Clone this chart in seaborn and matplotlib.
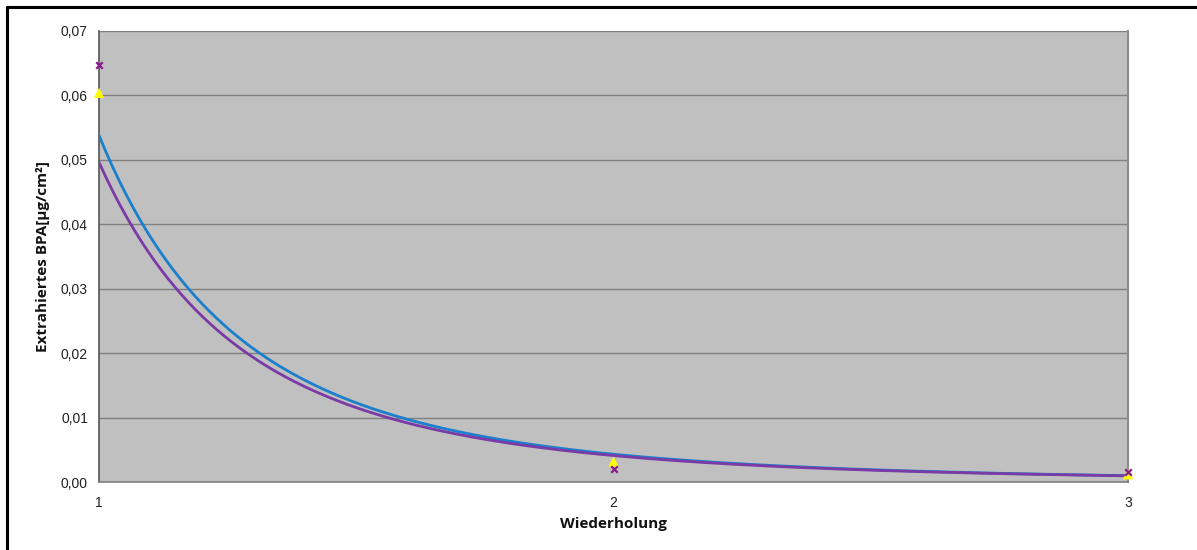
import numpy as np
import pandas as pd
import matplotlib
matplotlib.use("Agg")
import matplotlib.pyplot as plt
import seaborn as sns
from matplotlib.ticker import FuncFormatter, FixedLocator
from matplotlib.lines import Line2D

# --- data ---
wiederholung = [1, 2, 3]
serie_gelb = [0.0604, 0.00315, 0.0012]   # yellow triangles
serie_lila = [0.0647, 0.0020, 0.0015]    # purple crosses
y_ticks = [0.0, 0.01, 0.02, 0.03, 0.04, 0.05, 0.06, 0.07]
x_ticks = [1, 2, 3]

sns.set_style("white")
plt.rcParams['font.family'] = ['Liberation Sans', 'DejaVu Sans']

fig = plt.figure(figsize=(11.97, 5.5), dpi=100)
ax = fig.add_axes([99/1197, 1-482/550, (1128-99)/1197, (482-31)/550])
ax.set_facecolor("#C0C0C0")

# power-law trendlines (Excel style) fitted to each series
xs = np.linspace(1, 3, 300)
def power_fit(x, y):
    b, ln_a = np.polyfit(np.log(x), np.log(y), 1)
    return np.exp(ln_a) * xs ** b

trend = pd.DataFrame({
    "x": np.concatenate([xs, xs]),
    "y": np.concatenate([power_fit(wiederholung, serie_gelb), power_fit(wiederholung, serie_lila)]),
    "s": ["gelb"] * len(xs) + ["lila"] * len(xs),
})
sns.lineplot(data=trend, x="x", y="y", hue="s", palette={"gelb": "#1B7FCC", "lila": "#7A3BA6"},
             linewidth=2.0, legend=False, ax=ax, zorder=3)

pts_g = pd.DataFrame({"x": wiederholung, "y": serie_gelb})
pts_l = pd.DataFrame({"x": wiederholung, "y": serie_lila})
sns.scatterplot(data=pts_g, x="x", y="y", marker="^", color="#FFFF00", s=55, edgecolor="none",
                ax=ax, zorder=4, clip_on=False)
sns.scatterplot(data=pts_l, x="x", y="y", marker="x", color="#8B1A8B", s=22, linewidth=1.6,
                ax=ax, zorder=5, clip_on=False)

ax.set_xlim(1, 3)
ax.set_ylim(0, 0.07)
ax.yaxis.set_major_locator(FixedLocator(y_ticks))
ax.xaxis.set_major_locator(FixedLocator(x_ticks))
ax.yaxis.set_major_formatter(FuncFormatter(lambda v, p: f"{v:.2f}".replace(".", ",")))
ax.xaxis.set_major_formatter(FuncFormatter(lambda v, p: f"{int(round(v))}"))
ax.grid(axis="y", color="#7F7F7F", linewidth=1.0)
ax.grid(axis="x", visible=False)
ax.set_axisbelow(True)

for side in ["left", "bottom"]:
    ax.spines[side].set_color("#7F7F7F")
    ax.spines[side].set_linewidth(1.2)
ax.spines["left"].set_color("#555555")
ax.spines["right"].set_color("#8C8C8C")
ax.spines["right"].set_linewidth(1.5)
ax.spines["top"].set_visible(False)

ax.tick_params(axis="both", direction="out", length=4, width=1, color="#7F7F7F",
               labelsize=10, labelcolor="#222222", pad=4)
ax.tick_params(axis="x", pad=6)

ax.set_xlabel("Wiederholung", fontsize=11, fontweight="bold", family=["Open Sans", "DejaVu Sans"],
              labelpad=5, color="#111111")
ax.set_ylabel("Extrahiertes BPA[µg/cm²]", fontsize=11, fontweight="bold",
              family=["Open Sans", "DejaVu Sans"], labelpad=8, color="#111111")

# outer frame (top and left edges visible)
fig.add_artist(Line2D([7/1197, 1.0], [1-7/550, 1-7/550], transform=fig.transFigure,
                      color="black", linewidth=2.2))
fig.add_artist(Line2D([7/1197, 7/1197], [1-7/550, 0.0], transform=fig.transFigure,
                      color="black", linewidth=2.2))

fig.savefig("out.png", dpi=100)
